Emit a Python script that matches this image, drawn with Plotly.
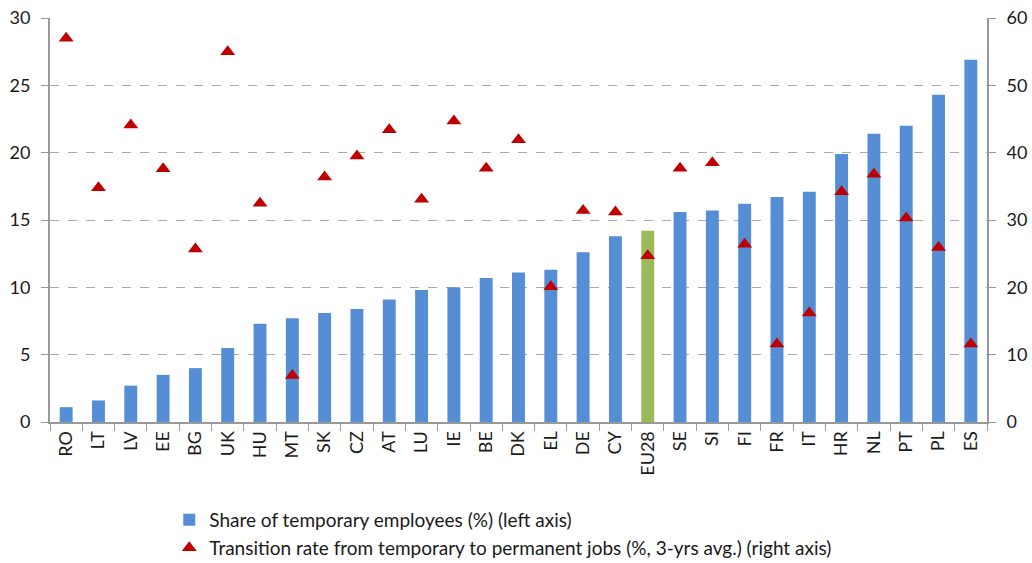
import plotly.graph_objects as go

countries = ["RO", "LT", "LV", "EE", "BG", "UK", "HU", "MT", "SK", "CZ", "AT", "LU", "IE", "BE", "DK",
             "EL", "DE", "CY", "EU28", "SE", "SI", "FI", "FR", "IT", "HR", "NL", "PT", "PL", "ES"]
temp_share = [1.1, 1.6, 2.7, 3.5, 4.0, 5.5, 7.3, 7.7, 8.1, 8.4, 9.1, 9.8, 10.0, 10.7, 11.1,
              11.3, 12.6, 13.8, 14.2, 15.6, 15.7, 16.2, 16.7, 17.1, 19.9, 21.4, 22.0, 24.3, 26.9]
transition_rate = [57.0, 34.8, 44.1, 37.6, 25.7, 55.0, 32.5, 6.9, 36.4, 39.5, 43.4, 33.1, 44.7, 37.7, 41.9,
                   20.1, 31.4, 31.2, 24.7, 37.7, 38.5, 26.4, 11.6, 16.2, 34.2, 36.8, 30.3, 25.9, 11.6]
left_ticks = [0, 5, 10, 15, 20, 25, 30]
right_ticks = [0, 10, 20, 30, 40, 50, 60]

bar_colors = ["#9BBB59" if c == "EU28" else "#558ED5" for c in countries]
font_family = "Lato, Open Sans, sans-serif"

fig = go.Figure()
fig.add_trace(go.Bar(
    x=countries, y=temp_share, name="Share of temporary employees (%) (left axis)",
    marker=dict(color=bar_colors, line=dict(width=0)), width=0.4, yaxis="y",
    legend="legend",
))
fig.add_trace(go.Scatter(
    x=countries, y=transition_rate, mode="markers",
    name="Transition rate from temporary to permanent jobs (%, 3-yrs avg.) (right axis)",
    marker=dict(symbol="triangle-up", size=13, color="#C00000"), yaxis="y2",
    legend="legend2",
))

legend_style = dict(xref="container", yref="container", xanchor="left", yanchor="middle",
                    font=dict(size=19, family=font_family, color="#1a1a1a"),
                    bgcolor="rgba(0,0,0,0)", itemwidth=30)

fig.update_layout(
    width=1032, height=563,
    margin=dict(l=50, r=45, t=18, b=141, autoexpand=False),
    plot_bgcolor="white", paper_bgcolor="white",
    font=dict(family=font_family, size=18, color="#1a1a1a"),
    showlegend=True,
    legend=dict(x=0.164, y=1 - 520 / 563, **legend_style),
    legend2=dict(x=0.164, y=1 - 548 / 563, **legend_style),
    xaxis=dict(
        type="category", range=[-0.5, len(countries) - 0.5],
        showline=True, linecolor="#999999", linewidth=2,
        ticks="outside", tickson="boundaries", ticklen=7, tickcolor="#999999",
        tickangle=-90, tickfont=dict(size=18), showgrid=False, automargin=False,
    ),
    yaxis=dict(
        range=[0, 30], tickvals=left_ticks, showline=True, linecolor="#999999", linewidth=2,
        ticks="outside", ticklen=7, tickcolor="#999999", ticklabelstandoff=7,
        showgrid=True, gridcolor="#AAAAAA", griddash="dash", gridwidth=1,
        zeroline=False, tickfont=dict(size=18), automargin=False,
    ),
    yaxis2=dict(
        range=[0, 60], tickvals=right_ticks, overlaying="y", side="right",
        showline=True, linecolor="#999999", linewidth=2,
        ticks="outside", ticklen=7, tickcolor="#999999", ticklabelstandoff=7,
        showgrid=False, zeroline=False, tickfont=dict(size=18), automargin=False,
    ),
)

fig.write_html("out.html")
